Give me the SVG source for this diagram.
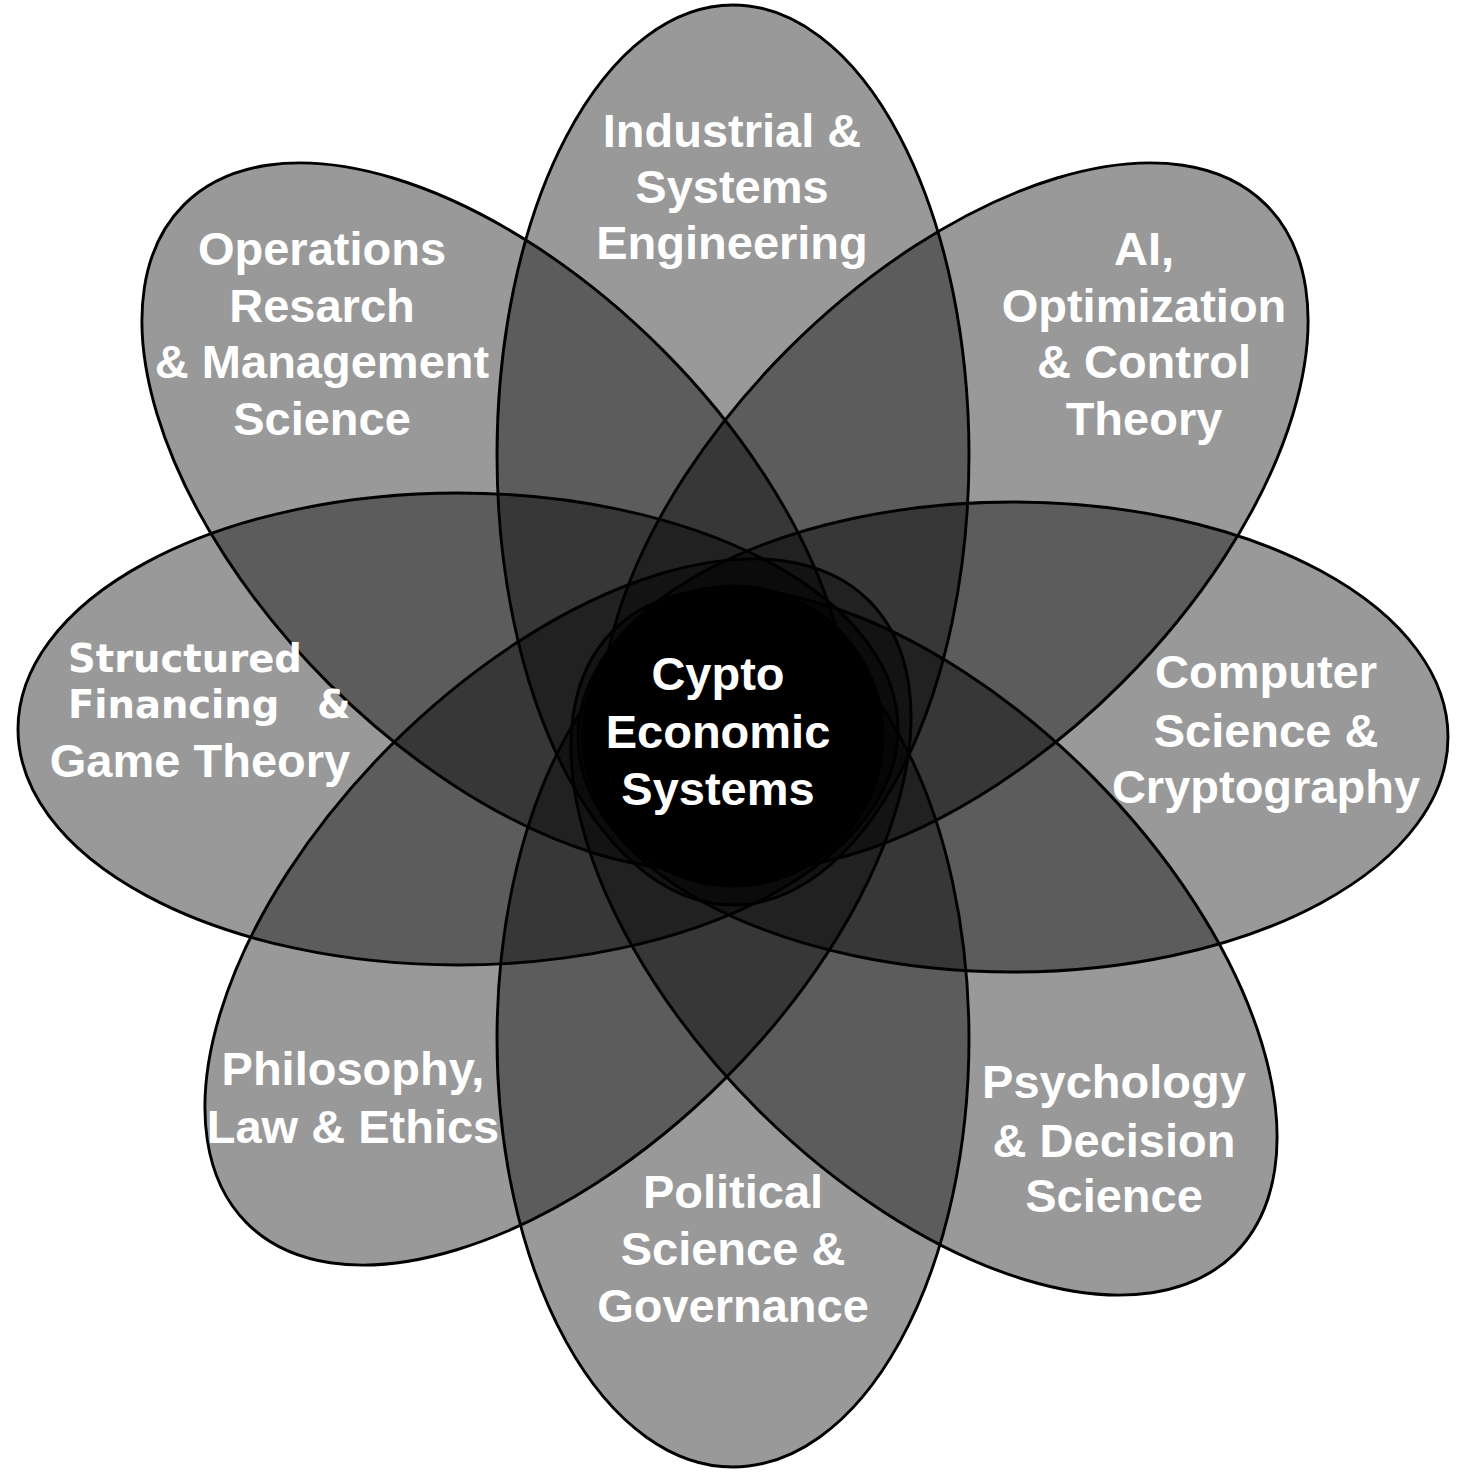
<svg xmlns="http://www.w3.org/2000/svg" width="1466" height="1473" viewBox="0 0 1466 1473">
  <style>
    .petal { fill: #000; fill-opacity: 0.4; stroke: #000; stroke-width: 2.9; }
    .core { fill: #000; stroke: #000; stroke-width: 2.9; }
    .lbl { fill: #fff; font-family: "Liberation Sans", Arial, sans-serif; font-weight: bold; font-size: 47px; text-anchor: middle; }
    .lbl2 { fill: #fff; font-family: "DejaVu Sans", Verdana, sans-serif; font-weight: bold; font-size: 38.5px; }
  </style>
  <rect width="1466" height="1473" fill="#fff"/>

  <!-- petals: semi-transparent ellipses, darker where they overlap -->
  <g id="petal-industrial">
    <ellipse class="petal" cx="733" cy="455" rx="236" ry="450"/>
  </g>
  <g id="petal-ai">
    <ellipse class="petal" cx="955" cy="516" rx="440" ry="236" transform="rotate(-45 955 516)"/>
  </g>
  <g id="petal-computer">
    <ellipse class="petal" cx="1013" cy="737" rx="435" ry="235"/>
  </g>
  <g id="petal-psychology">
    <ellipse class="petal" cx="924" cy="942" rx="440" ry="236" transform="rotate(45 924 942)"/>
  </g>
  <g id="petal-political">
    <ellipse class="petal" cx="733" cy="1039" rx="236" ry="428"/>
  </g>
  <g id="petal-philosophy">
    <ellipse class="petal" cx="558" cy="912" rx="440" ry="236" transform="rotate(-45 558 912)"/>
  </g>
  <g id="petal-structured">
    <ellipse class="petal" cx="458" cy="729" rx="440" ry="236"/>
  </g>
  <g id="petal-operations">
    <ellipse class="petal" cx="495" cy="516" rx="440" ry="236" transform="rotate(45 495 516)"/>
  </g>

  <!-- central core -->
  <g id="core">
    <circle class="core" cx="733" cy="736" r="150"/>
  </g>

  <!-- petal labels -->
  <g id="labels">
    <text class="lbl" x="732" y="147">Industrial &amp;</text>
    <text class="lbl" x="732" y="203">Systems</text>
    <text class="lbl" x="732" y="259">Engineering</text>

    <text class="lbl" x="322" y="265">Operations</text>
    <text class="lbl" x="322" y="322">Resarch</text>
    <text class="lbl" x="322" y="378">&amp; Management</text>
    <text class="lbl" x="322" y="435">Science</text>

    <text class="lbl" x="1144" y="265">AI,</text>
    <text class="lbl" x="1144" y="322">Optimization</text>
    <text class="lbl" x="1144" y="378">&amp; Control</text>
    <text class="lbl" x="1144" y="435">Theory</text>

    <text class="lbl2" x="68" y="672">Structured</text>
    <text class="lbl2" x="68" y="718">Financing</text>
    <text class="lbl2" x="317" y="718">&amp;</text>
    <text class="lbl" x="200" y="777">Game Theory</text>

    <text class="lbl" x="1266" y="688">Computer</text>
    <text class="lbl" x="1266" y="747">Science &amp;</text>
    <text class="lbl" x="1266" y="803">Cryptography</text>

    <text class="lbl" x="353" y="1085">Philosophy,</text>
    <text class="lbl" x="353" y="1143">Law &amp; Ethics</text>

    <text class="lbl" x="1114" y="1098">Psychology</text>
    <text class="lbl" x="1114" y="1157">&amp; Decision</text>
    <text class="lbl" x="1114" y="1212">Science</text>

    <text class="lbl" x="733" y="1208">Political</text>
    <text class="lbl" x="733" y="1265">Science &amp;</text>
    <text class="lbl" x="733" y="1322">Governance</text>

    <text class="lbl" x="718" y="690">Cypto</text>
    <text class="lbl" x="718" y="748">Economic</text>
    <text class="lbl" x="718" y="805">Systems</text>
  </g>
</svg>
